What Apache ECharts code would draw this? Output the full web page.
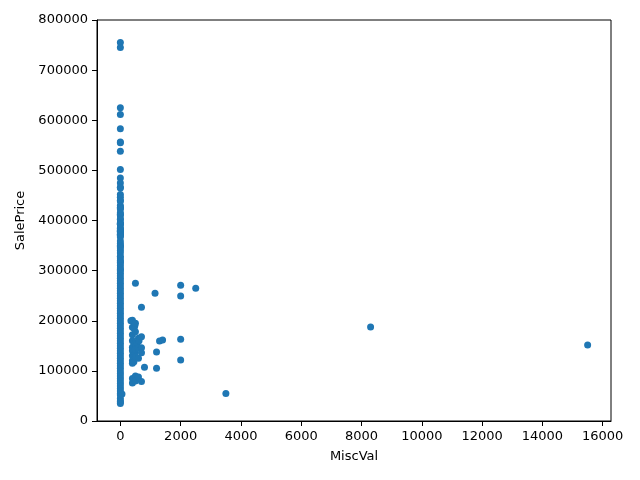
<!DOCTYPE html>
<html>
<head>
<meta charset="utf-8">
<script src="https://cdn.jsdelivr.net/npm/echarts@6/dist/echarts.min.js"></script>
<style>
html,body{margin:0;padding:0;background:#fff;}
#chart{width:640px;height:480px;}
</style>
</head>
<body>
<div id="chart"></div>
<script>
// SalePrice for houses with MiscVal = 0
const zeroMiscPrices = [
  755000, 745000, 625000, 611657, 582933, 556581, 555000, 538000, 501837,
  485000, 475000, 466500, 465000, 451950, 446261, 440000, 438780, 430000,
  426000, 424870, 423000, 415298, 412500, 410000, 402861, 402000, 395000,
  394617, 392500, 392000, 385000, 383970, 381000, 380000, 378500, 377500,
  375000, 372500, 370878, 369900, 367294, 359100, 354000, 350000, 348000,
  345000, 340000, 335000, 328900, 325000, 320000, 317000, 315000, 310000,
  305000, 302000, 300000, 295000, 290000, 285000, 280000, 275000, 270000,
  265000, 260000, 255000, 250000, 245000, 240000, 235000, 230000, 225000,
  220000, 215000, 210000, 205000, 200000, 195000, 190000, 185000, 180000,
  175000, 170000, 165000, 160000, 155000, 150000, 145000, 140000, 135000,
  130000, 125000, 120000, 115000, 110000, 105000, 100000, 95000, 90000,
  85000, 80000, 75000, 70000, 65000, 60000, 55000, 52000, 45000, 40000,
  37900, 34900
];

// Houses with a non-zero MiscVal
const miscVals = [
  54, 350,
  400, 400, 400, 400, 400, 400, 400, 400, 400, 400, 400,
  450, 450, 450, 450,
  480, 480,
  500, 500, 500, 500, 500, 500, 500, 500,
  560, 600, 600, 600, 600, 620,
  700, 700, 700, 700, 700,
  800, 1150, 1200, 1200, 1300, 1400,
  2000, 2000, 2000, 2000, 2500, 3500, 8300, 15500
];
const miscPrices = [
  54000, 200000,
  201000, 187000, 172000, 160000, 147000, 140000, 130000, 120000, 115000, 85000, 76000,
  185000, 150000, 118000, 82000,
  190000, 135000,
  275000, 195000, 178000, 155000, 143000, 128000, 90000, 80000,
  155000, 165000, 145000, 125000, 88000, 160000,
  227000, 168000, 146000, 136000, 79000,
  107000, 255000, 137500, 105000, 159500, 161500,
  271000, 249500, 163000, 121700, 265000, 55000, 187500, 151500
];

const xTicks = [0, 2000, 4000, 6000, 8000, 10000, 12000, 14000, 16000];

const points = zeroMiscPrices.map(p => [0, p])
  .concat(miscVals.map((v, i) => [v, miscPrices[i]]));

const chart = echarts.init(document.getElementById('chart'), null, {renderer: 'canvas'});
const font = 'DejaVu Sans';
const fs = 13;
chart.setOption({
  animation: false,
  backgroundColor: '#ffffff',
  grid: {left: 97, right: 29, top: 20, bottom: 59, show: true, borderColor: '#000', borderWidth: 1, backgroundColor: 'transparent'},
  xAxis: {
    type: 'value', min: -775, max: 16275,
    name: 'MiscVal', nameLocation: 'middle', nameGap: 29,
    nameTextStyle: {fontFamily: font, fontSize: fs, color: '#000'},
    axisLine: {show: true, onZero: false, lineStyle: {color: '#000', width: 1}},
    axisTick: {show: true, inside: false, length: 5, lineStyle: {color: '#000'}, customValues: xTicks},
    axisLabel: {fontFamily: font, fontSize: fs, color: '#000', margin: 9, customValues: xTicks,
      formatter: v => String(v)},
    splitLine: {show: false}
  },
  yAxis: {
    type: 'value', min: 0, max: 800000, interval: 100000,
    name: 'SalePrice', nameLocation: 'middle', nameGap: 64,
    nameTextStyle: {fontFamily: font, fontSize: fs, color: '#000'},
    axisLine: {show: true, onZero: false, lineStyle: {color: '#000', width: 1}},
    axisTick: {show: true, inside: false, length: 5, lineStyle: {color: '#000'}},
    axisLabel: {fontFamily: font, fontSize: fs, color: '#000', margin: 9,
      formatter: v => String(v)},
    splitLine: {show: false}
  },
  series: [{
    type: 'scatter',
    data: points,
    symbolSize: 7,
    itemStyle: {color: '#1f77b4', opacity: 1}
  }]
});
</script>
</body>
</html>
